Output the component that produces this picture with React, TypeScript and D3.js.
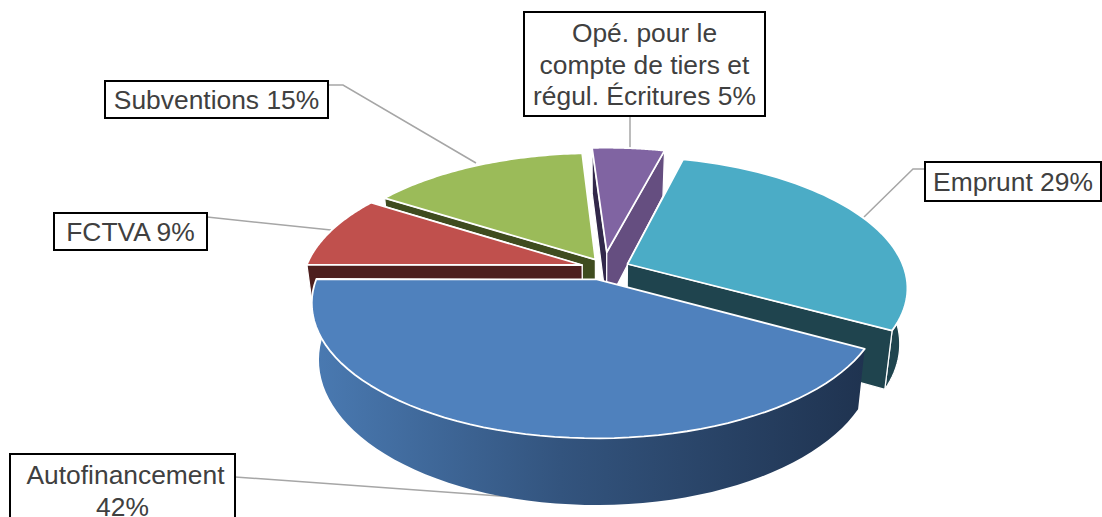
import React from "react";
import * as d3 from "d3";

const categories = ["Autofinancement", "FCTVA", "Subventions", "Opé. pour le compte de tiers et régul. Écritures", "Emprunt"];
const shares = [42, 9, 15, 5, 29];
const explodeX = [-0.011, -0.065, -0.017, 0.025, 0.1];
const explodeY = [0.12, 0.008, -0.035, -0.095, 0];
const topColors = ["#4F81BD", "#C0504D", "#9BBB59", "#8064A2", "#4BACC6"];
const wallColors = ["#1F3350", "#4D1F1E", "#3F4C1F", "#32284A", "#1F444E"];
const endWallColors = ["#1F3350", "#4D1F1E", "#3F4C1F", "#654E80", "#1F444E"];
const labelLines = [["Autofinancement", "42%"], ["FCTVA 9%"], ["Subventions 15%"], ["Opé. pour le", "compte de tiers et", "régul. Écritures 5%"], ["Emprunt 29%"]];
const labelBoxes = [
  [10, 454, 225, 70],
  [54, 213, 153, 37],
  [105, 81, 223, 37],
  [524, 12, 241, 104],
  [925, 162, 176, 39],
];
const leaders = [
  [[235, 477], [513, 497]],
  [[207, 217], [331, 230]],
  [[329, 85], [343, 85], [476, 163]],
  [[630, 116], [630, 150]],
  [[925, 169], [913, 169], [864, 217]],
];

const CX = 600, CY = 264, R = 275, K = 126, E = 0.17, H = 54;
const START = (119 * Math.PI) / 180;
const drawOrder = [3, 2, 1, 4, 0];

function project(X: number, Y: number, z: number): [number, number] {
  const s = 1 / (1 - E * Y);
  const shrink = 1 - (0.025 * z) / H;
  return [CX + R * X * s * shrink, CY + K * Y * s + z * s];
}

const arcs = d3.pie<number>().sort(null).startAngle(START).endAngle(START + 2 * Math.PI)(shares);
const line = d3.line();

function slice(i: number) {
  const a = arcs[i];
  const ox = explodeX[i];
  const oy = explodeY[i];
  const rim = (z: number) =>
    d3.range(0, 61).map((t) => {
      const ang = a.startAngle + ((a.endAngle - a.startAngle) * t) / 60;
      return project(ox + Math.sin(ang), oy - Math.cos(ang), z);
    });
  const apex = (z: number) => project(ox, oy, z);
  const top = [apex(0), ...rim(0)];
  const rt = rim(0), rb = rim(H);
  const rimWall = [...rt, ...rb.slice().reverse()];
  const startWall = { pts: [apex(0), rt[0], rb[0], apex(H)], fill: wallColors[i], depth: rt[0][1] };
  const endWall = { pts: [apex(0), rt[60], rb[60], apex(H)], fill: endWallColors[i], depth: rt[60][1] };
  const walls = [startWall, endWall].sort((p, q) => p.depth - q.depth);
  return { top, rimWall, walls };
}

export default function App() {
  return (
    <svg width={1102} height={517} style={{ position: "absolute", left: 0, top: 0, background: "#fff" }}>
      <defs>
        <linearGradient id="blueSide" gradientUnits="userSpaceOnUse" x1={312} x2={864} y1={0} y2={0}>
          <stop offset="0" stopColor="#4A7AB2" />
          <stop offset="0.45" stopColor="#33547E" />
          <stop offset="1" stopColor="#1F3350" />
        </linearGradient>
      </defs>
      {leaders.map((pts, i) => (
        <path key={i} d={line(pts as [number, number][]) ?? ""} fill="none" stroke="#A6A6A6" strokeWidth={1.5} />
      ))}
      {drawOrder.map((i) => {
        const s = slice(i);
        const sw = { stroke: "#fff", strokeWidth: 1.2, strokeLinejoin: "round" as const };
        return (
          <g key={i}>
            <path d={`${line(s.rimWall as [number, number][])}Z`} fill={i === 0 ? "url(#blueSide)" : endWallColors[i]} {...sw} strokeWidth={i === 0 ? 0 : 1.2} />
            {i !== 0 &&
              s.walls.map((w, j) => <path key={j} d={`${line(w.pts as [number, number][])}Z`} fill={w.fill} {...sw} />)}
            <path d={`${line(s.top as [number, number][])}Z`} fill={topColors[i]} stroke="#fff" strokeWidth={1.8} strokeLinejoin="round" />
          </g>
        );
      })}
      {categories.map((c, i) => {
        const [x, y, w, h] = labelBoxes[i];
        const lines = labelLines[i];
        return (
          <g key={c}>
            <rect x={x} y={y} width={w} height={h} fill="#fff" stroke="#000" strokeWidth={2} />
            {lines.map((t, j) => (
              <text
                key={j}
                x={x + w / 2 + (i === 0 && j === 0 ? 3 : 0)}
                y={y + (lines.length > 1 ? 30 : h / 2 + 9) + j * 31.5}
                textAnchor="middle"
                fontFamily="'Liberation Sans', Arial, sans-serif"
                fontSize={26.4}
                fill="#404040"
              >
                {t}
              </text>
            ))}
          </g>
        );
      })}
    </svg>
  );
}
